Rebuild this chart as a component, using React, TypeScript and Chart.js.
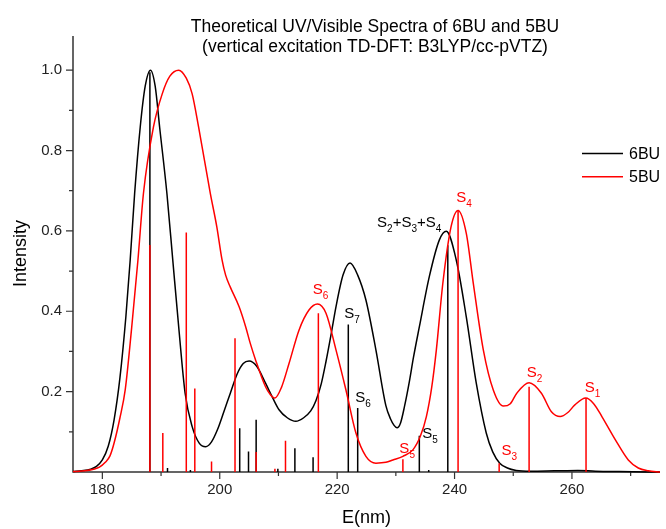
import React, { useEffect, useRef } from 'react';
import { Chart, registerables } from 'chart.js';

Chart.register(...registerables);

const titleLines = [
  'Theoretical UV/Visible Spectra of 6BU and 5BU',
  '(vertical excitation TD-DFT: B3LYP/cc-pVTZ)',
];
const xAxisTitle = 'E(nm)';
const yAxisTitle = 'Intensity';
const seriesNames = ['6BU', '5BU'];
const seriesColors = ['#000000', '#ff0000'];

const xMajorTicks = [180, 200, 220, 240, 260];
const xMinorTicks = [190, 210, 230, 250, 270];
const yMajorTicks = [0.2, 0.4, 0.6, 0.8, 1.0];
const yMinorTicks = [0.1, 0.3, 0.5, 0.7, 0.9];

// Broadened spectrum 6BU
const curve6BU_x = [
  175, 176.5, 178.0, 179.0, 180.0, 181.0, 182.0, 183.0, 184.0, 184.74, 185.5, 186.45, 187.3, 188.2,
  189.0, 189.76, 191.0, 192.0, 193.0, 194.1, 195.3, 196.5, 197.6, 198.6, 199.6, 200.7, 201.8, 203.0,
  204.0, 205.0, 206.3, 207.8, 209.0, 210.1, 211.5, 212.95, 214.3, 215.5, 216.4, 217.3, 218.1, 219.0, 219.8, 221.0, 222.2,
  223.5, 224.9, 226.6, 228.3, 229.1, 229.7, 230.2, 230.8, 231.5, 232.3, 233.0, 234.0, 235.7, 237.4, 238.6, 240.3,
  242.0, 243.7, 245.4, 246.5, 247.7, 249.0, 250.5, 253, 257, 261, 264, 268, 275,
];
const curve6BU_y = [
  0.001, 0.003, 0.007, 0.014, 0.03, 0.064, 0.13, 0.235, 0.385, 0.527, 0.693, 0.858, 0.96, 1.0,
  0.96, 0.858, 0.693, 0.527, 0.362, 0.196, 0.113, 0.072, 0.063, 0.075, 0.105, 0.15, 0.196, 0.245,
  0.27, 0.276, 0.263, 0.221, 0.185, 0.155, 0.135, 0.126, 0.135, 0.152, 0.178, 0.22, 0.275, 0.345, 0.411, 0.49, 0.52,
  0.49, 0.428, 0.304, 0.165, 0.132, 0.116, 0.11, 0.122, 0.165, 0.225, 0.285, 0.361, 0.486, 0.577, 0.599, 0.527,
  0.386, 0.221, 0.097, 0.05, 0.022, 0.01, 0.004, 0.002, 0.003, 0.004, 0.002, 0.001, 0,
];

// Broadened spectrum 5BU
const curve5BU_x = [
  175, 177, 178.5, 179.5, 180.5, 181.3, 182.0, 183.0, 183.9, 185.0, 186.06, 187.0, 188.7, 190.2, 191.5, 193.0,
  194.3, 195.3, 196.4, 198.4, 199.5, 200.4, 201.0, 201.8, 203.3, 204.4, 205.2, 206.1, 207.8, 208.6,
  209.4, 210.5, 211.8, 213.5, 215.2, 216.65, 218.1, 219.8, 221.5, 223.2, 224.9, 226.6, 228.3, 229.5,
  231.2, 232.9, 234.2, 235.2, 236.1, 236.9, 238.0, 239.4, 240.6, 242.0, 243.2, 244.9, 246.6, 248.3,
  249.5, 250.6, 252.7, 254.8, 256.5, 258.0, 259.3, 260.5, 262.35, 263.7, 265.1, 267.4, 269.6, 271.3,
  273, 275,
];
const curve5BU_y = [
  0.001, 0.003, 0.007, 0.012, 0.024, 0.04, 0.072, 0.135, 0.205, 0.36, 0.527, 0.693, 0.858, 0.941, 0.985, 1.0,
  0.98, 0.941, 0.858, 0.693, 0.61, 0.527, 0.49, 0.46, 0.411, 0.362, 0.32, 0.279, 0.212, 0.193,
  0.184, 0.21, 0.27, 0.353, 0.403, 0.418, 0.395, 0.304, 0.204, 0.097, 0.039, 0.022, 0.024, 0.03,
  0.039, 0.055, 0.09, 0.138, 0.21, 0.304, 0.469, 0.61, 0.651, 0.594, 0.469, 0.304, 0.204, 0.164,
  0.17, 0.196, 0.222, 0.196, 0.15, 0.138, 0.148, 0.167, 0.184, 0.17, 0.138, 0.08, 0.03, 0.01,
  0.003, 0,
];

// Stick transitions
const sticks6BU_x = [188.1, 191.1, 195.0, 203.4, 204.9, 206.2, 209.9, 212.8, 215.9, 221.9, 223.5, 234.0, 235.6, 238.85];
const sticks6BU_y = [0.995, 0.01, 0.005, 0.109, 0.051, 0.13, 0.008, 0.059, 0.037, 0.367, 0.159, 0.09, 0.005, 0.564];
const sticks5BU_x = [188.1, 190.3, 194.3, 195.75, 198.6, 202.6, 206.2, 209.4, 211.2, 216.8, 231.2, 240.6, 247.6, 252.7, 262.4];
const sticks5BU_y = [0.565, 0.097, 0.596, 0.208, 0.026, 0.333, 0.05, 0.008, 0.078, 0.395, 0.032, 0.65, 0.022, 0.212, 0.184];

// State labels (underscore = subscript digit)
const labelTexts = ['S_2+S_3+S_4', 'S_4', 'S_6', 'S_7', 'S_6', 'S_5', 'S_5', 'S_3', 'S_2', 'S_1'];
const labelX = [226.8, 240.3, 215.85, 221.2, 223.1, 234.5, 230.6, 248.0, 252.3, 262.2];
const labelY = [0.61, 0.672, 0.444, 0.382, 0.175, 0.084, 0.047, 0.043, 0.237, 0.2];
const labelSeries = [0, 1, 1, 0, 0, 0, 1, 1, 1, 1];

const FONT = '"Liberation Sans", Arial, sans-serif';

function toPoints(xs: number[], ys: number[]) {
  return xs.map((x, i) => ({ x, y: ys[i] }));
}

function toSticks(xs: number[], ys: number[]) {
  const pts: { x: number; y: number | null }[] = [];
  xs.forEach((x, i) => {
    pts.push({ x, y: 0 });
    pts.push({ x, y: ys[i] });
    pts.push({ x, y: null });
  });
  return pts;
}

const axesPlugin = {
  id: 'axesPlugin',
  beforeDatasetsDraw(chart: any) {
    const { ctx, chartArea, scales } = chart;
    const { left, right, top, bottom } = chartArea;
    const xs = scales.x;
    const ys = scales.y;
    ctx.save();
    ctx.strokeStyle = '#333333';
    ctx.lineWidth = 1.5;
    ctx.beginPath();
    ctx.moveTo(left, top);
    ctx.lineTo(left, bottom);
    ctx.lineTo(right, bottom);
    ctx.stroke();
    ctx.lineWidth = 1.2;
    ctx.beginPath();
    xMajorTicks.forEach((v) => {
      const p = xs.getPixelForValue(v);
      ctx.moveTo(p, bottom);
      ctx.lineTo(p, bottom + 7);
    });
    xMinorTicks.forEach((v) => {
      const p = xs.getPixelForValue(v);
      ctx.moveTo(p, bottom);
      ctx.lineTo(p, bottom + 4);
    });
    yMajorTicks.forEach((v) => {
      const p = ys.getPixelForValue(v);
      ctx.moveTo(left - 7, p);
      ctx.lineTo(left, p);
    });
    yMinorTicks.forEach((v) => {
      const p = ys.getPixelForValue(v);
      ctx.moveTo(left - 4, p);
      ctx.lineTo(left, p);
    });
    ctx.stroke();
    ctx.restore();
  },
  afterDraw(chart: any) {
    const { ctx, chartArea, scales } = chart;
    const xs = scales.x;
    const ys = scales.y;
    ctx.save();
    // title
    ctx.fillStyle = '#000';
    ctx.textAlign = 'center';
    ctx.textBaseline = 'alphabetic';
    ctx.font = `17.5px ${FONT}`;
    ctx.fillText(titleLines[0], 375, 32);
    ctx.fillText(titleLines[1], 375, 52);
    // axis titles
    ctx.font = `18px ${FONT}`;
    ctx.fillText(xAxisTitle, (chartArea.left + chartArea.right) / 2, 523);
    ctx.save();
    ctx.translate(26, 253.5);
    ctx.rotate(-Math.PI / 2);
    ctx.fillText(yAxisTitle, 0, 0);
    ctx.restore();
    // legend
    ctx.textAlign = 'left';
    ctx.textBaseline = 'middle';
    ctx.font = `16px ${FONT}`;
    seriesNames.forEach((name, i) => {
      const y = 153.5 + i * 23.3;
      ctx.strokeStyle = seriesColors[i];
      ctx.lineWidth = 1.5;
      ctx.beginPath();
      ctx.moveTo(582, y);
      ctx.lineTo(623, y);
      ctx.stroke();
      ctx.fillStyle = '#000';
      ctx.fillText(name, 629, y + 1);
    });
    // state labels
    ctx.textBaseline = 'alphabetic';
    labelTexts.forEach((txt, i) => {
      let px = xs.getPixelForValue(labelX[i]);
      const py = ys.getPixelForValue(labelY[i]);
      ctx.fillStyle = seriesColors[labelSeries[i]];
      let k = 0;
      while (k < txt.length) {
        const ch = txt[k];
        if (ch === '_' && k + 1 < txt.length) {
          ctx.font = `10px ${FONT}`;
          ctx.fillText(txt[k + 1], px, py + 5);
          px += ctx.measureText(txt[k + 1]).width;
          k += 2;
        } else {
          ctx.font = `15px ${FONT}`;
          ctx.fillText(ch, px, py);
          px += ctx.measureText(ch).width;
          k += 1;
        }
      }
    });
    ctx.restore();
  },
};

export default function App() {
  const canvasRef = useRef<HTMLCanvasElement | null>(null);

  useEffect(() => {
    document.body.style.margin = '0';
    const canvas = canvasRef.current;
    if (!canvas) return;
    Chart.defaults.font.family = FONT;
    const chart = new Chart(canvas, {
      type: 'line',
      data: {
        datasets: [
          {
            label: '5BU sticks',
            data: toSticks(sticks5BU_x, sticks5BU_y),
            borderColor: seriesColors[1],
            borderWidth: 1.5,
            pointRadius: 0,
            tension: 0,
            spanGaps: false,
            clip: false as any,
            order: 0,
          },
          {
            label: seriesNames[1],
            data: toPoints(curve5BU_x, curve5BU_y),
            borderColor: seriesColors[1],
            borderWidth: 1.5,
            pointRadius: 0,
            cubicInterpolationMode: 'monotone',
            clip: false as any,
            order: 1,
          },
          {
            label: '6BU sticks',
            data: toSticks(sticks6BU_x, sticks6BU_y),
            borderColor: seriesColors[0],
            borderWidth: 1.5,
            pointRadius: 0,
            tension: 0,
            spanGaps: false,
            clip: false as any,
            order: 2,
          },
          {
            label: seriesNames[0],
            data: toPoints(curve6BU_x, curve6BU_y),
            borderColor: seriesColors[0],
            borderWidth: 1.5,
            pointRadius: 0,
            cubicInterpolationMode: 'monotone',
            clip: false as any,
            order: 3,
          },
        ],
      },
      options: {
        animation: false,
        responsive: false,
        events: [],
        layout: { padding: { left: 0, right: 6, top: 36, bottom: 0 } },
        plugins: {
          legend: { display: false },
          title: { display: false },
          tooltip: { enabled: false },
        },
        scales: {
          x: {
            type: 'linear',
            min: 175,
            max: 275,
            grid: { display: false, drawTicks: false },
            border: { display: false },
            afterBuildTicks: (scale: any) => {
              scale.ticks = xMajorTicks.map((v) => ({ value: v }));
            },
            afterFit: (scale: any) => {
              scale.height = 57;
            },
            ticks: {
              padding: 9,
              color: '#222',
              font: { size: 15, family: FONT },
              maxRotation: 0,
              callback: (v: any) => String(v),
            },
          },
          y: {
            type: 'linear',
            min: 0,
            max: 1.085,
            grid: { display: false, drawTicks: false },
            border: { display: false },
            afterBuildTicks: (scale: any) => {
              scale.ticks = yMajorTicks.map((v) => ({ value: v }));
            },
            afterFit: (scale: any) => {
              scale.width = 73;
            },
            ticks: {
              padding: 11,
              color: '#222',
              font: { size: 15, family: FONT },
              callback: (v: any) => Number(v).toFixed(1),
            },
          },
        },
      },
      plugins: [axesPlugin],
    } as any);
    return () => {
      chart.destroy();
    };
  }, []);

  return (
    <div style={{ position: 'absolute', left: 0, top: 0, width: 666, height: 529 }}>
      <canvas ref={canvasRef} width={666} height={529} style={{ width: 666, height: 529 }} />
    </div>
  );
}
